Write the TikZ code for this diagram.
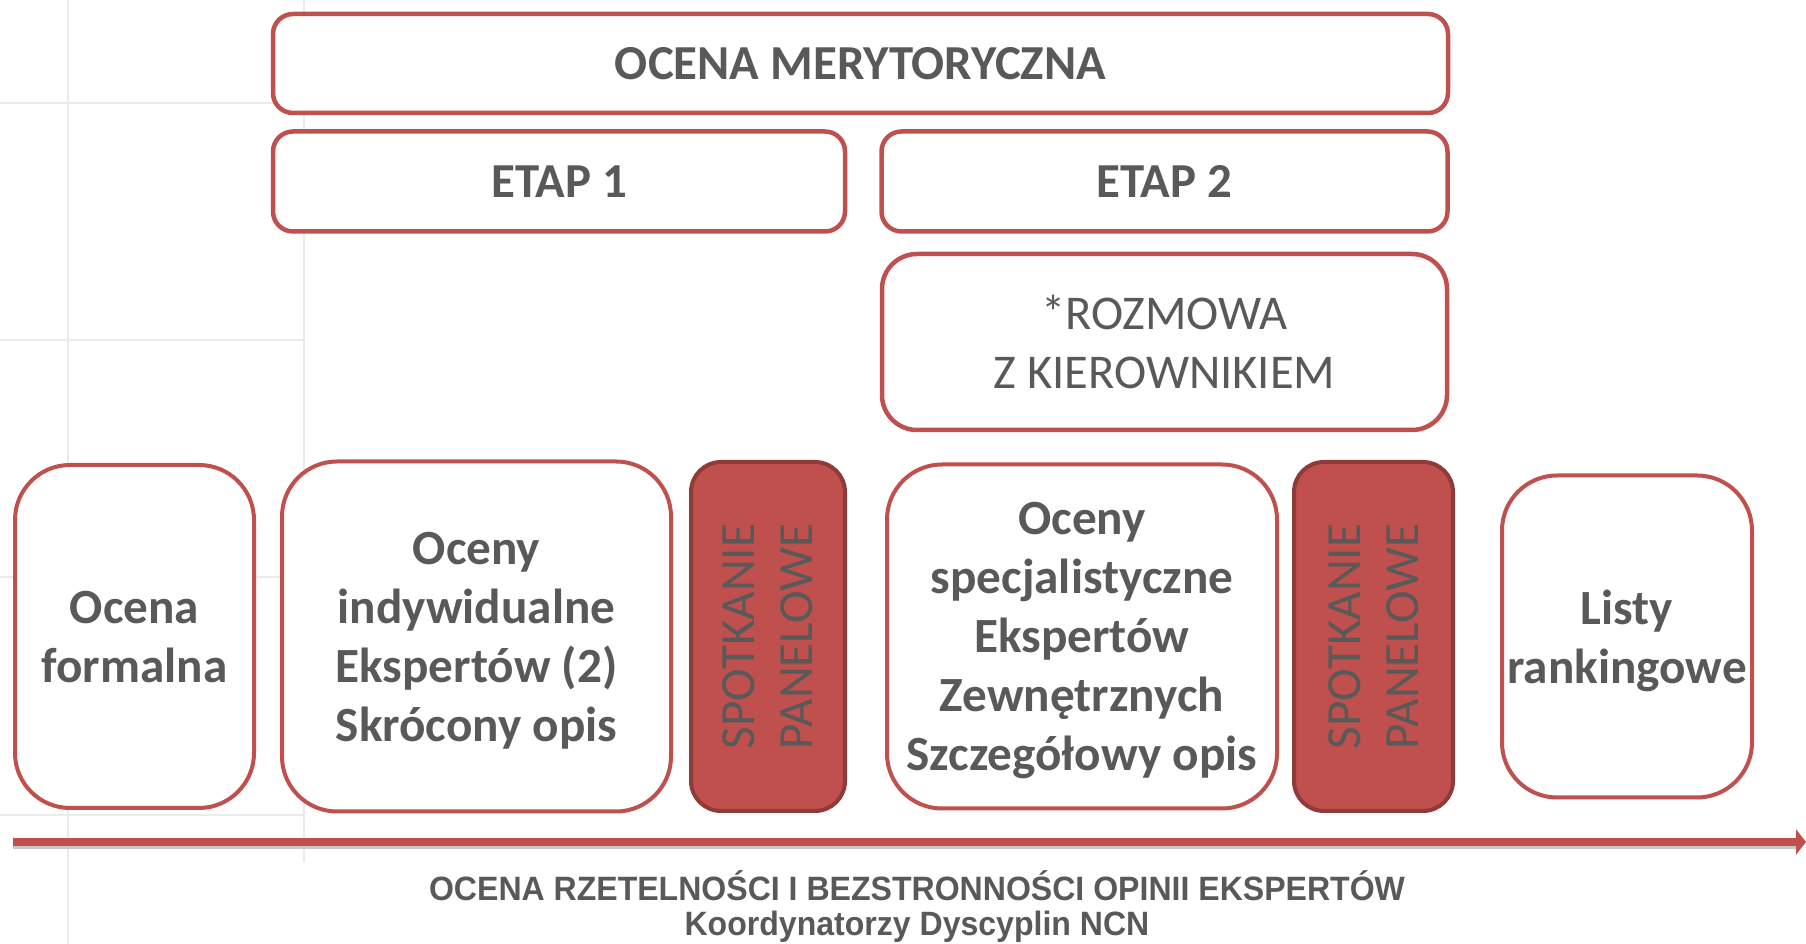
\documentclass[tikz,border=0pt]{standalone}
\usepackage{fontspec}
\setmainfont{Carlito}
\newfontfamily\narrowsans[FakeStretch=0.95]{Liberation Sans}
\usetikzlibrary{positioning,arrows.meta}
\definecolor{boxred}{HTML}{C0504D}
\definecolor{paneledge}{HTML}{8E3B39}
\definecolor{txtgrey}{HTML}{595959}
\definecolor{gridgrey}{HTML}{EBEBEB}

\begin{document}
\begin{tikzpicture}[
    stagebox/.style={rectangle, rounded corners=0.2cm, draw=boxred, line width=0.045cm, fill=white, text=txtgrey, inner sep=0pt, font=\fontsize{13.9}{16.5}\selectfont\bfseries},
    card/.style={rectangle, rounded corners=0.55cm, draw=boxred, line width=0.04cm, fill=white, text=txtgrey, align=center, text depth=0pt, inner sep=0pt, font=\fontsize{14}{16.8}\selectfont\bfseries},
    panel/.style={rectangle, rounded corners=0.3cm, draw=paneledge, line width=0.04cm, fill=boxred, text=txtgrey, align=center, rotate=90, inner sep=0pt, font=\fontsize{14}{16.5}\selectfont},
    note/.style={text=txtgrey, inner sep=0pt, font=\narrowsans\bfseries\fontsize{9.6}{11}\selectfont}
]
    \useasboundingbox (0,0) rectangle (18.06,9.44);

    % grid of the sheet behind
    \draw[gridgrey, line width=0.015cm] (0.68,0) -- (0.68,9.44) (3.04,0.82) -- (3.04,9.44);
    \foreach \y in {8.41,6.04,3.67,1.29}
        \draw[gridgrey, line width=0.015cm] (0,\y) -- (3.04,\y);

    % stages
    \node[stagebox, minimum width=11.75cm, minimum height=0.99cm] (merit) at (8.605,8.805) {OCENA MERYTORYCZNA};
    \node[stagebox, minimum width=5.72cm, minimum height=1cm, below=0.14cm of merit.south west, anchor=north west] (etap1) {ETAP 1};
    \node[stagebox, minimum width=5.66cm, minimum height=1cm, right=0.32cm of etap1] (etap2) {ETAP 2};
    \node[stagebox, rounded corners=0.35cm, minimum width=5.65cm, minimum height=1.76cm, align=center,
          font=\fontsize{13.8}{16.6}\selectfont, below=0.18cm of etap2] (talk) {*ROZMOWA\\Z KIEROWNIKIEM};

    % steps
    \node[card, minimum width=2.39cm, minimum height=3.43cm] (formal) at (1.345,3.075) {Ocena\\formalna};
    \node[card, minimum width=3.89cm, minimum height=3.5cm, right=0.24cm of formal] (indiv) {Oceny\\indywidualne\\Ekspertów (2)\\Skrócony opis};
    \node[panel, minimum width=3.49cm, minimum height=1.54cm, anchor=north] (panel1) at ([xshift=0.16cm]indiv.east) {SPOTKANIE\\PANELOWE};
    \node[card, minimum width=3.9cm, minimum height=3.44cm, right=0.38cm of panel1.south] (spec) {Oceny\\specjalistyczne\\Ekspertów\\Zewnętrznych\\Szczegółowy opis};
    \node[panel, minimum width=3.49cm, minimum height=1.59cm, anchor=north] (panel2) at ([xshift=0.13cm]spec.east) {SPOTKANIE\\PANELOWE};
    \node[card, minimum width=2.5cm, minimum height=3.22cm, right=0.45cm of panel2.south] (lists) {Listy\\rankingowe};

    % time line
    \coordinate (tl0) at (0.13,1.02);
    \coordinate (tl1) at (18.06,1.02);
    \draw[black!22, line width=0.05cm] ([yshift=-0.045cm]tl0) -- ([xshift=-0.1cm,yshift=-0.045cm]tl1);
    \draw[boxred, line width=0.08cm, -{Triangle[length=0.1cm,width=0.25cm]}] (tl0) -- (tl1);

    \node[note, anchor=base] (note1) at (9.17,0.43) {OCENA RZETELNOŚCI I BEZSTRONNOŚCI OPINII EKSPERTÓW};
    \node[note, anchor=base] (note2) at ([yshift=-0.35cm]note1.base) {Koordynatorzy Dyscyplin NCN};
\end{tikzpicture}
\end{document}
